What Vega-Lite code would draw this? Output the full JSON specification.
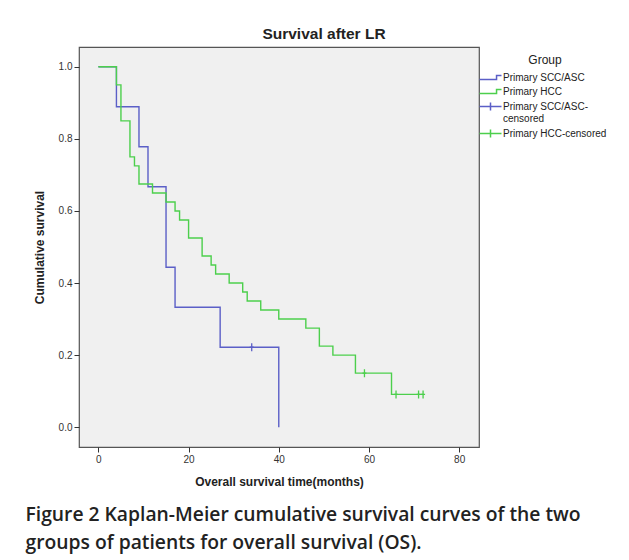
{
  "$schema": "https://vega.github.io/schema/vega-lite/v6.json",
  "background": "white",
  "padding": {"left": 25, "top": 25, "right": 0, "bottom": 3},
  "title": {
    "text": ["Figure 2 Kaplan-Meier cumulative survival curves of the two", "groups of patients for overall survival (OS)."],
    "orient": "bottom",
    "anchor": "start",
    "frame": "bounds",
    "font": "Open Sans",
    "fontSize": 19.3,
    "fontWeight": 600,
    "color": "#222222",
    "lineHeight": 28,
    "offset": 18,
    "dx": -7
  },
  "datasets": {
    "curves": [
      {"key": "Primary SCC/ASC", "time": 0, "surv": 1.0},
      {"key": "Primary SCC/ASC", "time": 4, "surv": 0.889},
      {"key": "Primary SCC/ASC", "time": 9, "surv": 0.778},
      {"key": "Primary SCC/ASC", "time": 11, "surv": 0.667},
      {"key": "Primary SCC/ASC", "time": 15, "surv": 0.444},
      {"key": "Primary SCC/ASC", "time": 17, "surv": 0.333},
      {"key": "Primary SCC/ASC", "time": 27, "surv": 0.222},
      {"key": "Primary SCC/ASC", "time": 40, "surv": 0.0},
      {"key": "Primary HCC", "time": 0, "surv": 1.0},
      {"key": "Primary HCC", "time": 4, "surv": 0.95},
      {"key": "Primary HCC", "time": 5, "surv": 0.85},
      {"key": "Primary HCC", "time": 7, "surv": 0.75},
      {"key": "Primary HCC", "time": 8, "surv": 0.725},
      {"key": "Primary HCC", "time": 9, "surv": 0.675},
      {"key": "Primary HCC", "time": 12, "surv": 0.65},
      {"key": "Primary HCC", "time": 15, "surv": 0.625},
      {"key": "Primary HCC", "time": 17, "surv": 0.6},
      {"key": "Primary HCC", "time": 18, "surv": 0.575},
      {"key": "Primary HCC", "time": 20, "surv": 0.525},
      {"key": "Primary HCC", "time": 23, "surv": 0.475},
      {"key": "Primary HCC", "time": 25, "surv": 0.45},
      {"key": "Primary HCC", "time": 26, "surv": 0.425},
      {"key": "Primary HCC", "time": 29, "surv": 0.4},
      {"key": "Primary HCC", "time": 32, "surv": 0.375},
      {"key": "Primary HCC", "time": 33, "surv": 0.35},
      {"key": "Primary HCC", "time": 36, "surv": 0.325},
      {"key": "Primary HCC", "time": 40, "surv": 0.3},
      {"key": "Primary HCC", "time": 46, "surv": 0.275},
      {"key": "Primary HCC", "time": 49, "surv": 0.225},
      {"key": "Primary HCC", "time": 52, "surv": 0.2},
      {"key": "Primary HCC", "time": 57, "surv": 0.15},
      {"key": "Primary HCC", "time": 65, "surv": 0.091},
      {"key": "Primary HCC", "time": 72, "surv": 0.091}
    ],
    "censored": [
      {"key": "Primary SCC/ASC-censored", "time": 34, "surv": 0.222},
      {"key": "Primary HCC-censored", "time": 59, "surv": 0.15},
      {"key": "Primary HCC-censored", "time": 66, "surv": 0.091},
      {"key": "Primary HCC-censored", "time": 71, "surv": 0.091},
      {"key": "Primary HCC-censored", "time": 72, "surv": 0.091}
    ]
  },
  "config": {
    "font": "Liberation Sans",
    "view": {"fill": "#f0f0f0", "stroke": "#555555", "strokeWidth": 1.2},
    "axis": {
      "grid": false,
      "domain": false,
      "tickColor": "#333333",
      "tickSize": 5,
      "labelFont": "Liberation Sans",
      "labelFontSize": 10,
      "labelColor": "#333333",
      "labelPadding": 2,
      "titleFont": "Liberation Sans",
      "titleFontSize": 12,
      "titleFontWeight": "bold",
      "titleColor": "#222222"
    }
  },
  "vconcat": [
    {
      "title": {
        "text": "Survival after LR",
        "font": "Liberation Sans",
        "fontSize": 15.5,
        "fontWeight": "bold",
        "color": "#222222",
        "anchor": "middle",
        "frame": "group",
        "offset": 5,
        "dx": 45
      },
      "width": 400,
      "height": 400,
      "layer": [
        {
          "data": {"name": "curves"},
          "mark": {"type": "line", "interpolate": "step-after", "strokeWidth": 1.4},
          "encoding": {
            "x": {
              "field": "time", "type": "quantitative",
              "scale": {"domain": [-4.3, 84.4], "nice": false, "zero": false},
              "axis": {"values": [0, 20, 40, 60, 80], "title": "Overall survival time(months)", "titlePadding": 12}
            },
            "y": {
              "field": "surv", "type": "quantitative",
              "scale": {"domain": [-0.055, 1.055], "nice": false, "zero": false},
              "axis": {"values": [0, 0.2, 0.4, 0.6, 0.8, 1.0], "format": ".1f", "title": "Cumulative survival", "titlePadding": 12}
            },
            "color": {
              "field": "key", "type": "nominal",
              "scale": {
                "domain": ["Primary SCC/ASC", "Primary HCC", "Primary SCC/ASC-censored", "Primary HCC-censored"],
                "range": ["#5b5fc7", "#4ccf4c", "#5b5fc7", "#4ccf4c"]
              },
              "legend": {
                "title": "Group",
                "titleFont": "Liberation Sans",
                "titleFontSize": 12,
                "titleFontWeight": "normal",
                "titleColor": "#222222",
                "titleAnchor": "middle",
                "titlePadding": 4,
                "labelFont": "Liberation Sans",
                "labelFontSize": 10,
                "labelColor": "#222222",
                "labelOffset": 6,
                "labelLimit": 200,
                "labelExpr": "datum.label == 'Primary SCC/ASC-censored' ? ['Primary SCC/ASC-', 'censored'] : datum.label",
                "symbolSize": 121,
                "symbolStrokeWidth": 1.5,
                "symbolFillColor": "transparent",
                "rowPadding": 2,
                "offset": -4,
                "padding": 8,
                "encode": {
                  "symbols": {
                    "update": {
                      "shape": {"signal": "indexof(datum.value, 'censored') >= 0 ? 'M-2,0H2M0,-0.72V0.72' : 'M-2,0.36H1.1V-0.36H2'"},
                      "fill": {"value": "transparent"}
                    }
                  }
                }
              }
            }
          }
        },
        {
          "data": {"name": "censored"},
          "mark": {"type": "point", "shape": "M0,-1V1M-0.5,0H0.5", "size": 64, "filled": false, "strokeWidth": 1.3, "opacity": 1},
          "encoding": {
            "x": {"field": "time", "type": "quantitative"},
            "y": {"field": "surv", "type": "quantitative"},
            "color": {"field": "key", "type": "nominal"}
          }
        }
      ]
    }
  ]
}
